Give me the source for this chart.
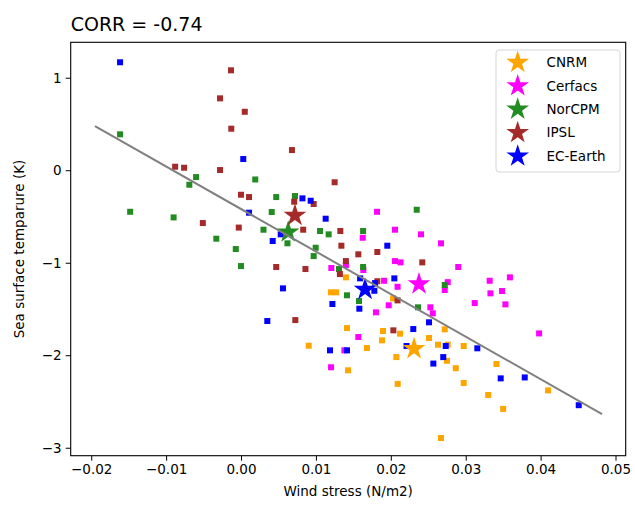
<!DOCTYPE html>
<html>
<head>
<meta charset="utf-8">
<script src="https://cdn.jsdelivr.net/npm/d3@7"></script>
<style>
  html, body { margin: 0; padding: 0; background: #fff; overflow: hidden; }
  svg { display: block; }
  text { font-family: 'DejaVu Sans', sans-serif; fill: #000; }
</style>
</head>
<body>
<script>
/* DATA: wind stress (N/m2) against sea surface temperature (K) */
const models = ['CNRM', 'Cerfacs', 'NorCPM', 'IPSL', 'EC-Earth'];
const colors = ['orange', 'magenta', 'forestgreen', 'brown', 'blue'];

const cnrmX = [0.0140, 0.0120, 0.0127, 0.0203, 0.01415, 0.01896, 0.02123, 0.01883, 0.0251, 0.0263, 0.0276, 0.00904, 0.01682, 0.02074, 0.01429, 0.02092, 0.0267, 0.0272, 0.02973, 0.0275, 0.02867, 0.0341, 0.02973, 0.0330, 0.0410, 0.0350];
const cnrmY = [-1.158, -1.32, -1.32, -1.385, -1.706, -1.738, -1.767, -1.839, -1.814, -1.886, -1.886, -1.897, -1.922, -2.02, -2.163, -2.31, -2.895, -1.72, -1.90, -2.06, -2.14, -2.095, -2.30, -2.43, -2.38, -2.58];

const cerfacsX = [0.01816, 0.02056, 0.02403, 0.0267, 0.01625, 0.02056, 0.0213, 0.0140, 0.01206, 0.01633, 0.0191, 0.0209, 0.0276, 0.0272, 0.0290, 0.0332, 0.0359, 0.0333, 0.03485, 0.0312, 0.0353, 0.0398, 0.01802, 0.01972, 0.02528, 0.0256, 0.01566, 0.0138, 0.01202];
const cerfacsY = [-0.449, -0.643, -0.693, -0.79, -0.73, -0.982, -0.996, -1.025, -1.057, -1.079, -1.195, -1.26, -1.21, -1.295, -1.046, -1.195, -1.158, -1.331, -1.306, -1.436, -1.45, -1.764, -1.536, -1.46, -1.482, -1.547, -1.803, -1.947, -2.13];

const norcpmX = [-0.01615, -0.006, 0.0019, -0.0069, -0.0148, -0.0090, -0.0033, -0.0007, 0.0000, 0.0047, 0.0072, 0.0041, 0.02346, 0.003, 0.01055, 0.0117, 0.0163, 0.0062, 0.00997, 0.0097, 0.01308, 0.0163, 0.0272, 0.01415, 0.01575, 0.02363];
const norcpmY = [0.388, -0.074, -0.10, -0.157, -0.449, -0.51, -0.74, -0.852, -1.036, -0.29, -0.279, -0.452, -0.427, -0.643, -0.657, -0.693, -0.657, -0.79, -0.838, -0.928, -1.068, -1.046, -1.241, -1.352, -1.414, -1.482];

const ipslX = [-0.00134, -0.0028, 0.0005, -0.0013, -0.0088, -0.0076, -0.0028, 0.0000, 0.00107, -0.0051, -0.0003, 0.0068, 0.0125, 0.0071, 0.0097, 0.0083, 0.01326, 0.0134, 0.01566, 0.0182, 0.0242, 0.0140, 0.0047, 0.0086, 0.0132, 0.0182, 0.0209, 0.00725, 0.02034];
const ipslY = [1.080, 0.777, 0.632, 0.449, 0.038, 0.027, 0.002, -0.265, -0.29, -0.571, -0.62, 0.218, -0.13, -0.34, -0.365, -0.643, -0.657, -0.816, -0.909, -0.884, -0.996, -0.982, -1.046, -1.068, -1.122, -1.20, -1.407, -1.62, -1.731];

const ecearthX = [-0.01615, 0.0003, 0.00107, 0.0082, 0.0093, 0.0113, 0.00423, 0.0053, 0.01953, 0.0159, 0.0178, 0.0179, 0.02047, 0.0056, 0.0122, 0.0158, 0.0251, 0.00351, 0.023, 0.0221, 0.01188, 0.01415, 0.02733, 0.03155, 0.0270, 0.02568, 0.03467, 0.03788, 0.04509];
const ecearthY = [1.167, 0.121, -0.459, -0.304, -0.33, -0.524, -0.765, -0.693, -0.816, -1.169, -1.303, -1.22, -1.169, -1.277, -1.446, -1.497, -1.644, -1.63, -1.717, -1.90, -1.947, -1.947, -1.90, -1.925, -2.02, -2.09, -2.25, -2.24, -2.54];

// model means (stars)
const meanX = [0.0231, 0.02376, 0.0063, 0.0072, 0.01656];
const meanY = [-1.93, -1.23, -0.67, -0.49, -1.29];

// fitted line
const fitX = [-0.0195, 0.0482];
const fitY = [0.478, -2.636];

const xTicks = [-0.02, -0.01, 0.00, 0.01, 0.02, 0.03, 0.04, 0.05];
const yTicks = [-3, -2, -1, 0, 1];
const corrText = 'CORR = -0.74';

const seriesX = [cnrmX, cerfacsX, norcpmX, ipslX, ecearthX];
const seriesY = [cnrmY, cerfacsY, norcpmY, ipslY, ecearthY];

/* CHART */
const width = 635;
const height = 505;
const margin = { top: 42.3, right: 9.3, bottom: 49.3, left: 70.7 };
const innerWidth = width - margin.left - margin.right;
const innerHeight = height - margin.top - margin.bottom;

const svg = d3
  .select('body')
  .append('svg')
  .attr('width', width)
  .attr('height', height);

const group = svg
  .append('g')
  .attr('transform', `translate(${margin.left} ${margin.top})`);

const xScale = d3
  .scaleLinear()
  .domain([-0.02274, 0.05136])
  .range([0, innerWidth]);

const yScale = d3
  .scaleLinear()
  .domain([-3.086, 1.383])
  .range([innerHeight, 0]);

const xAxis = d3
  .axisBottom(xScale)
  .tickValues(xTicks)
  .tickSize(5)
  .tickPadding(4)
  .tickFormat(d3.format('.2f'));

const yAxis = d3
  .axisLeft(yScale)
  .tickValues(yTicks)
  .tickSize(5)
  .tickPadding(4)
  .tickFormat(d3.format('d'));

const xAxisGroup = group
  .append('g')
  .attr('transform', `translate(0 ${innerHeight})`)
  .call(xAxis);

const yAxisGroup = group.append('g').call(yAxis);

[xAxisGroup, yAxisGroup].forEach(g => {
  g.attr('font-size', 13.5).attr('font-family', "'DejaVu Sans', sans-serif");
  g.select('.domain').remove();
  g.selectAll('line').attr('stroke-width', 1);
});

// squares, one colour per model
const squareSize = 6;
seriesX.forEach((xs, i) => {
  const points = xs.map((x, j) => ({ x, y: seriesY[i][j] }));
  group
    .append('g')
    .selectAll('rect')
    .data(points)
    .join('rect')
    .attr('x', d => xScale(d.x) - squareSize / 2)
    .attr('y', d => yScale(d.y) - squareSize / 2)
    .attr('width', squareSize)
    .attr('height', squareSize)
    .attr('fill', colors[i]);
});

// mean stars
const star = d3.symbol().type(d3.symbolStar).size(160);
group
  .append('g')
  .selectAll('path')
  .data(meanX.map((x, i) => ({ x, y: meanY[i], color: colors[i] })))
  .join('path')
  .attr('d', star)
  .attr('transform', d => `translate(${xScale(d.x)} ${yScale(d.y)})`)
  .attr('fill', d => d.color);

// regression line
const lineGenerator = d3
  .line()
  .x(d => xScale(d[0]))
  .y(d => yScale(d[1]));

group
  .append('path')
  .attr('d', lineGenerator(fitX.map((x, i) => [x, fitY[i]])))
  .attr('fill', 'none')
  .attr('stroke', 'gray')
  .attr('stroke-width', 2);

// frame
group
  .append('rect')
  .attr('width', innerWidth)
  .attr('height', innerHeight)
  .attr('fill', 'none')
  .attr('stroke', '#000')
  .attr('stroke-width', 1.1);

// legend
const legend = group
  .append('g')
  .attr('transform', `translate(${496 - margin.left} ${50 - margin.top})`);

legend
  .append('rect')
  .attr('width', 124)
  .attr('height', 122)
  .attr('rx', 3)
  .attr('fill', '#fff')
  .attr('fill-opacity', 0.8)
  .attr('stroke', '#d6d6d6');

const legendItems = legend
  .selectAll('g.item')
  .data(models)
  .join('g')
  .attr('class', 'item')
  .attr('transform', (d, i) => `translate(0 ${12.5 + i * 23.4})`);

legendItems
  .append('path')
  .attr('d', star)
  .attr('transform', 'translate(21.7 0)')
  .attr('fill', (d, i) => colors[i]);

legendItems
  .append('text')
  .attr('x', 50.5)
  .attr('dy', '0.35em')
  .attr('font-size', 13.5)
  .text(d => d);

// titles
svg
  .append('text')
  .attr('x', margin.left)
  .attr('y', 31)
  .attr('font-size', 19)
  .text(corrText);

svg
  .append('text')
  .attr('x', margin.left + innerWidth / 2)
  .attr('y', 496)
  .attr('text-anchor', 'middle')
  .attr('font-size', 13.5)
  .text('Wind stress (N/m2)');

svg
  .append('text')
  .attr('transform', `translate(24 ${margin.top + innerHeight / 2}) rotate(-90)`)
  .attr('text-anchor', 'middle')
  .attr('font-size', 13.5)
  .text('Sea surface temparure (K)');
</script>
</body>
</html>
